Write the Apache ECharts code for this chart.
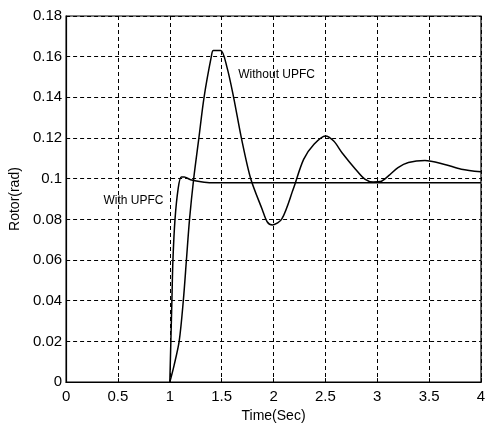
<!DOCTYPE html>
<html>
<head>
<meta charset="utf-8">
<script src="https://cdn.jsdelivr.net/npm/echarts@6/dist/echarts.min.js"></script>
<style>
html,body{margin:0;padding:0;background:#fff;}
#rotor-echarts{width:495px;height:428px;}
</style>
</head>
<body>
<div id="rotor-echarts"></div>
<script>
// time (s) and rotor angle (rad)
var timeWithout = [1.0, 1.04, 1.09, 1.13, 1.16, 1.19, 1.23, 1.28, 1.33, 1.40, 1.42, 1.49, 1.55, 1.615, 1.69, 1.78, 1.89, 1.94, 1.99,
	2.08, 2.19, 2.29, 2.39, 2.5, 2.58, 2.66, 2.79, 2.88, 2.96, 3.03, 3.11, 3.2, 3.3, 3.46, 3.65, 3.81, 4.0];
var rotorWithout = [0, 0.008, 0.02, 0.04, 0.06, 0.08, 0.1, 0.12, 0.14, 0.16, 0.163, 0.163, 0.155, 0.14, 0.12, 0.1, 0.085, 0.0787, 0.0773,
	0.0802, 0.0949, 0.1095, 0.1169, 0.121, 0.1185, 0.1128, 0.1047, 0.0998, 0.0984, 0.0986, 0.1015, 0.1055, 0.108, 0.109, 0.107, 0.1047, 0.1034];

var timeWith = [1.0, 1.01, 1.02, 1.03, 1.05, 1.08, 1.11, 1.14, 1.2, 1.3, 1.4, 4.0];
var rotorWith = [0, 0.02, 0.04, 0.06, 0.08, 0.095, 0.1008, 0.1008, 0.0995, 0.0985, 0.098, 0.098];

var xTicks = [0, 0.5, 1, 1.5, 2, 2.5, 3, 3.5, 4];
var yTicks = [0, 0.02, 0.04, 0.06, 0.08, 0.1, 0.12, 0.14, 0.16, 0.18];

function pairs(xs, ys){
	var out = [];
	for (var i = 0; i < xs.length; i++) out.push([xs[i], ys[i]]);
	return out;
}

var rotorEcharts = echarts.init(document.getElementById('rotor-echarts'));

var gridLine = {show:true, lineStyle:{color:'#000', width:1, type:[4,3]}};
var font = 'Liberation Sans, Arial, sans-serif';

var option = {
	animation:false,
	backgroundColor:'#fff',
	grid:{left:65, right:14, top:16, bottom:44, show:true, borderColor:'#000', borderWidth:1.2},
	xAxis:{
		type:'value', min:xTicks[0], max:xTicks[xTicks.length-1], interval:0.5,
		axisLine:{show:true, lineStyle:{color:'#000', width:1.2}},
		axisTick:{show:true, inside:true, length:4, lineStyle:{color:'#000'}},
		splitLine:gridLine,
		axisLabel:{color:'#000', fontSize:15, fontFamily:font, margin:7,
			formatter:function(v){return String(v);}},
		name:'Time(Sec)', nameLocation:'middle', nameGap:25,
		nameTextStyle:{color:'#000', fontSize:14, fontFamily:font}
	},
	yAxis:{
		type:'value', min:yTicks[0], max:yTicks[yTicks.length-1], interval:0.02,
		axisLine:{show:true, lineStyle:{color:'#000', width:1.2}},
		axisTick:{show:true, inside:true, length:4, lineStyle:{color:'#000'}},
		splitLine:gridLine,
		axisLabel:{color:'#000', fontSize:15, fontFamily:font, margin:4,
			formatter:function(v){return String(Math.round(v*100)/100);}},
		name:'Rotor(rad)', nameLocation:'middle', nameGap:41,
		nameTextStyle:{color:'#000', fontSize:14, fontFamily:font}
	},
	series:[
		{
			name:'Without UPFC', type:'line', data:pairs(timeWithout, rotorWithout),
			showSymbol:false, smooth:0.3, lineStyle:{color:'#000', width:1.5},
			markPoint:{
				symbol:'circle', symbolSize:0,
				data:[{coord:[1.66, 0.151], value:'Without UPFC'}],
				label:{show:true, position:'right', offset:[-5,0], color:'#000', fontSize:12, fontFamily:font, formatter:'{c}'}
			}
		},
		{
			name:'With UPFC', type:'line', data:pairs(timeWith, rotorWith),
			showSymbol:false, smooth:0.3, lineStyle:{color:'#000', width:1.5},
			markPoint:{
				symbol:'circle', symbolSize:0,
				data:[{coord:[0.36, 0.089], value:'With UPFC'}],
				label:{show:true, position:'right', offset:[-5,0], color:'#000', fontSize:12, fontFamily:font, formatter:'{c}'}
			}
		}
	]
};

rotorEcharts.setOption(option);
</script>
</body>
</html>
